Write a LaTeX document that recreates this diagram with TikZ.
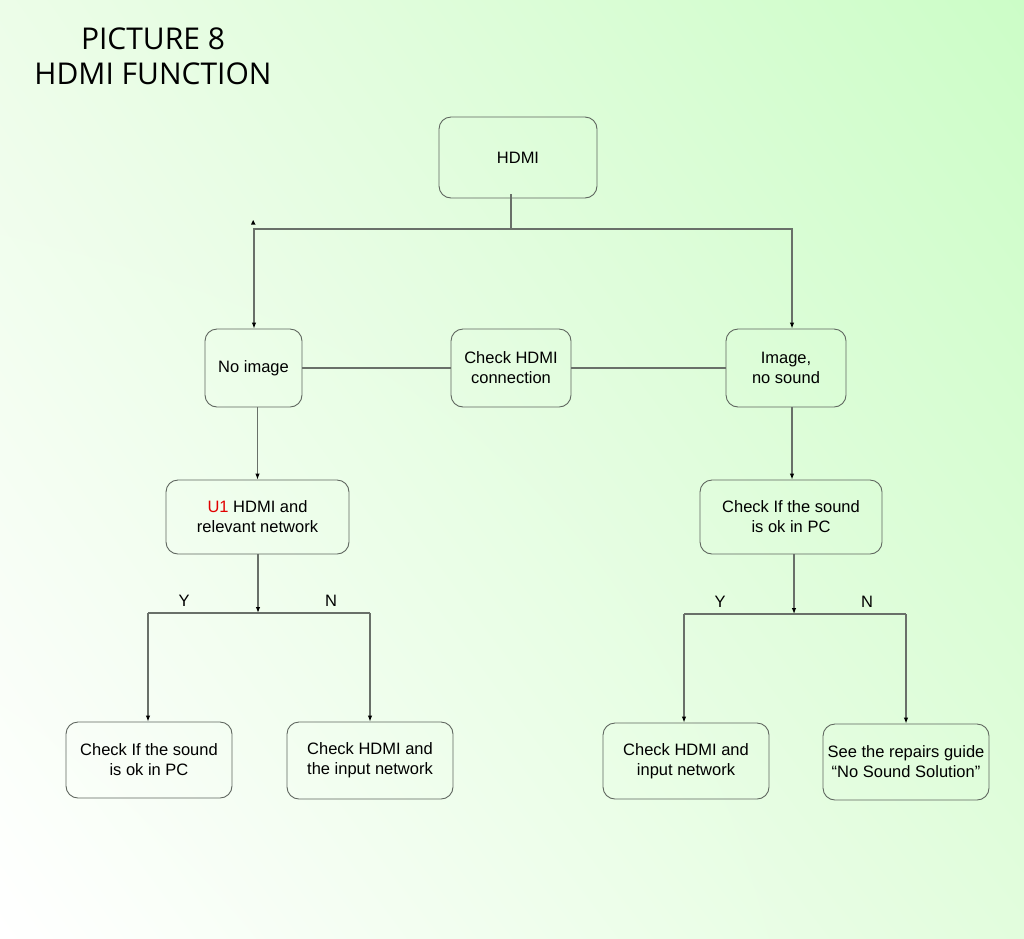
\documentclass[tikz,border=0pt]{standalone}
\usepackage{fontspec}
\setmainfont{Liberation Sans}
\newfontfamily\titlefont{Open Sans}
\usetikzlibrary{arrows.meta,shadings}
\definecolor{bgTL}{RGB}{236,253,232}
\definecolor{bgTR}{RGB}{204,253,199}
\definecolor{bgBL}{RGB}{255,255,255}
\definecolor{bgBR}{RGB}{226,253,221}
\definecolor{linegray}{RGB}{105,112,105}
\definecolor{boxgray}{RGB}{95,102,95}
\definecolor{uired}{RGB}{225,0,0}
\tikzset{
  box/.style={draw=boxgray, line width=0.9pt, rounded corners=12pt, align=center,
    font=\fontsize{16.5}{20}\selectfont, inner sep=0pt},
  conn/.style={draw=linegray, line width=1.1pt},
  arr/.style={conn, -{Latex[length=6pt,width=4.5pt,color=black]}},
  yn/.style={font=\fontsize{16.5}{20}\selectfont}
}
\begin{document}
\begin{tikzpicture}[x=1pt,y=-1pt]
\useasboundingbox (0,0) rectangle (1024,938);
\shade[upper left=bgTL, upper right=bgTR, lower left=bgBL, lower right=bgBR] (0,0) rectangle (1024,938);
% title
\node[font=\titlefont\fontsize{30}{35}\selectfont, align=center] (title) at (153,56) {PICTURE 8\\HDMI FUNCTION};
% boxes
\node[box, minimum width=158pt, minimum height=81pt] (hdmi) at (518,157.5) {HDMI};
\node[box, minimum width=97pt, minimum height=78pt] (noimg) at (253.5,368) {No image};
\node[box, minimum width=120pt, minimum height=78pt] (chk) at (511,368) {Check HDMI\\connection};
\node[box, minimum width=120pt, minimum height=78pt] (imgns) at (786,368) {Image,\\ no sound};
\node[box, minimum width=183pt, minimum height=74pt] (u1) at (257.5,517) {\textcolor{uired}{U1} HDMI and\\relevant network};
\node[box, minimum width=182pt, minimum height=74pt] (rchk) at (791,517) {Check If the sound\\ is ok in PC};
\node[box, minimum width=166pt, minimum height=76pt] (lchk) at (149,760) {Check If the sound\\ is ok in PC};
\node[box, minimum width=166pt, minimum height=77pt] (lin) at (370,760.5) {Check HDMI and\\ the input network};
\node[box, minimum width=166pt, minimum height=76pt] (rin) at (686,761) {Check HDMI and\\input network};
\node[box, minimum width=166pt, minimum height=76pt] (rep) at (906,762) {See the repairs guide\\ \textquotedblleft No Sound Solution\textquotedblright};
% junction coordinates
\coordinate (top) at (511,229);
\coordinate (tl) at (254,229);
\coordinate (tr) at (792,229);
\coordinate (jl) at (258,613);
\coordinate (ly) at (148,613);
\coordinate (ln) at (370,613);
\coordinate (jr) at (794,614);
\coordinate (ry) at (684,614);
\coordinate (rn) at (906,614);
% connectors
\draw[conn] ([yshift=4pt]hdmi.south -| top) -- (top);
\draw[arr] (top) -- (tl) -- (noimg.north -| tl);
\draw[arr] (top) -- (tr) -- (imgns.north -| tr);
\fill[black] (251,224.5) -- (255.5,224.5) -- (253.2,220) -- cycle;
\draw[conn] (noimg.east) -- (chk.west);
\draw[conn] (chk.east) -- (imgns.west);
\draw[arr] (u1.north |- noimg.south) -- (u1.north);
\draw[arr] (tr |- imgns.south) -- (rchk.north -| tr);
\draw[arr] (u1.south -| jl) -- (jl);
\draw[conn] (ly) -- (ln);
\draw[arr] (ly) -- (lchk.north -| ly);
\draw[arr] (ln) -- (lin.north -| ln);
\draw[arr] (rchk.south -| jr) -- (jr);
\draw[conn] (ry) -- (rn);
\draw[arr] (ry) -- (rin.north -| ry);
\draw[arr] (rn) -- (rep.north -| rn);
% labels
\node[yn] (ly1) at (184,601) {Y};
\node[yn] (ln1) at (331,601) {N};
\node[yn] (ry1) at (720,602) {Y};
\node[yn] (rn1) at (867,602) {N};
\end{tikzpicture}
\end{document}
